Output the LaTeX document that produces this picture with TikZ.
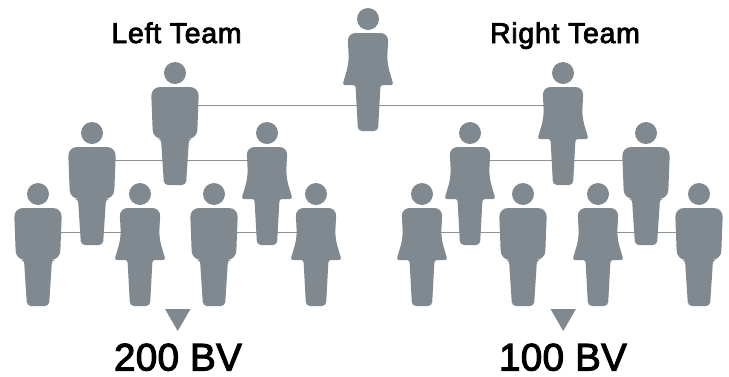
\documentclass[tikz,border=0pt]{standalone}
\usepackage{fontspec}
\setmainfont{Liberation Sans}
\newfontfamily\teamfont[FakeBold=2.8,LetterSpace=2.5]{Liberation Sans}
\newfontfamily\bvfont[FakeBold=2.8,LetterSpace=1]{Liberation Sans}
\definecolor{figgray}{HTML}{808990}
\definecolor{linkgray}{HTML}{8C9297}
\tikzset{
  x=1pt,y=-1pt,
  figfill/.style={fill=figgray,draw=none},
  link/.style={draw=linkgray,line width=1pt},
  teamlabel/.style={font=\teamfont\fontsize{28.5}{32}\selectfont,inner sep=0,anchor=base},
  bvlabel/.style={font=\bvfont\fontsize{38.5}{40}\selectfont,inner sep=0,anchor=base},
  man/.pic={
    \fill[figfill] (0,0) circle (11);
    \fill[figfill,rounded corners=9pt] (-24,14) -- (24,14) -- (22,66) [rounded corners=3pt] -- (14,66) [rounded corners=4pt] -- (11,112) -- (-11,112) [rounded corners=3pt] -- (-14,66) [rounded corners=9pt] -- (-22,66) -- cycle;
  },
  woman/.pic={
    \fill[figfill] (0,0) circle (11);
    \fill[figfill,rounded corners=8pt] (-20.5,14) -- (20.5,14) -- (19,44)
      [rounded corners=2.5pt] -- (25.5,66) -- (12.5,66)
      [rounded corners=4pt] -- (10,112) -- (-10,112)
      [rounded corners=2.5pt] -- (-12.5,66) -- (-25.5,66)
      [rounded corners=8pt] -- (-19,44) -- cycle;
  }
}
\begin{document}
\begin{tikzpicture}
\useasboundingbox (0,0) rectangle (729,376);
% attachment points of the connectors
\coordinate (topL) at (175,105);
\coordinate (topR) at (563,105);
\coordinate (l2a) at (92,160);
\coordinate (l2b) at (267,160);
\coordinate (r2a) at (470,160);
\coordinate (r2b) at (646,160);
\coordinate (l3a) at (38,232);
\coordinate (l3b) at (140,232);
\coordinate (l3c) at (214,232);
\coordinate (l3d) at (316,232);
\coordinate (r3a) at (422,232);
\coordinate (r3b) at (523,232);
\coordinate (r3c) at (598,232);
\coordinate (r3d) at (699,232);
\draw[link] (topL) -- (topR);
\draw[link] (l2a) -- (l2b);
\draw[link] (r2a) -- (r2b);
\draw[link] (l3a) -- (l3b);
\draw[link] (l3c) -- (l3d);
\draw[link] (r3a) -- (r3b);
\draw[link] (r3c) -- (r3d);
% people
\pic at (368,19) {woman};
\pic at (175,73) {man};
\pic at (563,73) {woman};
\pic at (92,133) {man};
\pic at (267,133) {woman};
\pic at (470,133) {woman};
\pic at (646,133) {man};
\pic at (38,194) {man};
\pic at (140,194) {woman};
\pic at (214,194) {man};
\pic at (316,194) {woman};
\pic at (422,194) {woman};
\pic at (523,194) {man};
\pic at (598,194) {woman};
\pic at (699,194) {man};
% markers
\fill[figgray] (165,309) -- (190.5,309) -- (177.7,331) -- cycle;
\fill[figgray] (550.5,309) -- (576,309) -- (563.2,331) -- cycle;
% text
\node[teamlabel] (leftteam) at (176.5,43) {Left Team};
\node[teamlabel] (rightteam) at (565,43) {Right Team};
\node[bvlabel] (leftbv) at (178,370.5) {200 BV};
\node[bvlabel] (rightbv) at (563,370.5) {100 BV};
\end{tikzpicture}
\end{document}
